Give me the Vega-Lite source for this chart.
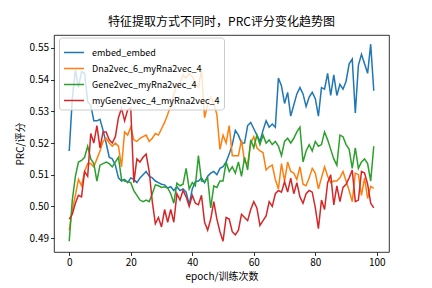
{
"$schema":"https://vega.github.io/schema/vega-lite/v6.json",
"width":335,"height":217,
"autosize":{"type":"none"},
"padding":{"left":54,"top":35,"right":43,"bottom":36},
"background":"white",
"title":{"text":"特征提取方式不同时，PRC评分变化趋势图","font":"Noto Sans CJK SC","fontSize":12,"fontWeight":"normal","color":"black","anchor":"middle","frame":"group","offset":6},
"data":{"values":[
{"epoch":0,"embed_embed":0.5175,"Dna2vec_6_myRna2vec_4":0.4925,"Gene2vec_myRna2vec_4":0.4890,"myGene2vec_4_myRna2vec_4":0.4960},
{"epoch":1,"embed_embed":0.5340,"Dna2vec_6_myRna2vec_4":0.4990,"Gene2vec_myRna2vec_4":0.5020,"myGene2vec_4_myRna2vec_4":0.4975},
{"epoch":2,"embed_embed":0.5430,"Dna2vec_6_myRna2vec_4":0.5035,"Gene2vec_myRna2vec_4":0.5095,"myGene2vec_4_myRna2vec_4":0.5010},
{"epoch":3,"embed_embed":0.5375,"Dna2vec_6_myRna2vec_4":0.5085,"Gene2vec_myRna2vec_4":0.5140,"myGene2vec_4_myRna2vec_4":0.5035},
{"epoch":4,"embed_embed":0.5425,"Dna2vec_6_myRna2vec_4":0.5065,"Gene2vec_myRna2vec_4":0.5145,"myGene2vec_4_myRna2vec_4":0.5030},
{"epoch":5,"embed_embed":0.5420,"Dna2vec_6_myRna2vec_4":0.5110,"Gene2vec_myRna2vec_4":0.5155,"myGene2vec_4_myRna2vec_4":0.5110},
{"epoch":6,"embed_embed":0.5330,"Dna2vec_6_myRna2vec_4":0.5135,"Gene2vec_myRna2vec_4":0.5190,"myGene2vec_4_myRna2vec_4":0.5095},
{"epoch":7,"embed_embed":0.5320,"Dna2vec_6_myRna2vec_4":0.5135,"Gene2vec_myRna2vec_4":0.5150,"myGene2vec_4_myRna2vec_4":0.5230},
{"epoch":8,"embed_embed":0.5270,"Dna2vec_6_myRna2vec_4":0.5125,"Gene2vec_myRna2vec_4":0.5135,"myGene2vec_4_myRna2vec_4":0.5200},
{"epoch":9,"embed_embed":0.5270,"Dna2vec_6_myRna2vec_4":0.5150,"Gene2vec_myRna2vec_4":0.5080,"myGene2vec_4_myRna2vec_4":0.5255},
{"epoch":10,"embed_embed":0.5275,"Dna2vec_6_myRna2vec_4":0.5175,"Gene2vec_myRna2vec_4":0.5130,"myGene2vec_4_myRna2vec_4":0.5185},
{"epoch":11,"embed_embed":0.5240,"Dna2vec_6_myRna2vec_4":0.5205,"Gene2vec_myRna2vec_4":0.5135,"myGene2vec_4_myRna2vec_4":0.5235},
{"epoch":12,"embed_embed":0.5200,"Dna2vec_6_myRna2vec_4":0.5215,"Gene2vec_myRna2vec_4":0.5140,"myGene2vec_4_myRna2vec_4":0.5235},
{"epoch":13,"embed_embed":0.5155,"Dna2vec_6_myRna2vec_4":0.5200,"Gene2vec_myRna2vec_4":0.5135,"myGene2vec_4_myRna2vec_4":0.5210},
{"epoch":14,"embed_embed":0.5150,"Dna2vec_6_myRna2vec_4":0.5190,"Gene2vec_myRna2vec_4":0.5125,"myGene2vec_4_myRna2vec_4":0.5200},
{"epoch":15,"embed_embed":0.5130,"Dna2vec_6_myRna2vec_4":0.5200,"Gene2vec_myRna2vec_4":0.5140,"myGene2vec_4_myRna2vec_4":0.5220},
{"epoch":16,"embed_embed":0.5090,"Dna2vec_6_myRna2vec_4":0.5190,"Gene2vec_myRna2vec_4":0.5155,"myGene2vec_4_myRna2vec_4":0.5280},
{"epoch":17,"embed_embed":0.5080,"Dna2vec_6_myRna2vec_4":0.5125,"Gene2vec_myRna2vec_4":0.5085,"myGene2vec_4_myRna2vec_4":0.5310},
{"epoch":18,"embed_embed":0.5085,"Dna2vec_6_myRna2vec_4":0.5235,"Gene2vec_myRna2vec_4":0.5080,"myGene2vec_4_myRna2vec_4":0.5270},
{"epoch":19,"embed_embed":0.5075,"Dna2vec_6_myRna2vec_4":0.5225,"Gene2vec_myRna2vec_4":0.5078,"myGene2vec_4_myRna2vec_4":0.5305},
{"epoch":20,"embed_embed":0.5090,"Dna2vec_6_myRna2vec_4":0.5250,"Gene2vec_myRna2vec_4":0.5075,"myGene2vec_4_myRna2vec_4":0.5310},
{"epoch":21,"embed_embed":0.5085,"Dna2vec_6_myRna2vec_4":0.5210,"Gene2vec_myRna2vec_4":0.5050,"myGene2vec_4_myRna2vec_4":0.5075},
{"epoch":22,"embed_embed":0.5075,"Dna2vec_6_myRna2vec_4":0.5205,"Gene2vec_myRna2vec_4":0.5035,"myGene2vec_4_myRna2vec_4":0.5150},
{"epoch":23,"embed_embed":0.5090,"Dna2vec_6_myRna2vec_4":0.5215,"Gene2vec_myRna2vec_4":0.5020,"myGene2vec_4_myRna2vec_4":0.5140},
{"epoch":24,"embed_embed":0.5100,"Dna2vec_6_myRna2vec_4":0.5220,"Gene2vec_myRna2vec_4":0.5015,"myGene2vec_4_myRna2vec_4":0.5155},
{"epoch":25,"embed_embed":0.5110,"Dna2vec_6_myRna2vec_4":0.5225,"Gene2vec_myRna2vec_4":0.5020,"myGene2vec_4_myRna2vec_4":0.5165},
{"epoch":26,"embed_embed":0.5095,"Dna2vec_6_myRna2vec_4":0.5205,"Gene2vec_myRna2vec_4":0.5015,"myGene2vec_4_myRna2vec_4":0.5110},
{"epoch":27,"embed_embed":0.5090,"Dna2vec_6_myRna2vec_4":0.5215,"Gene2vec_myRna2vec_4":0.5040,"myGene2vec_4_myRna2vec_4":0.5015},
{"epoch":28,"embed_embed":0.5080,"Dna2vec_6_myRna2vec_4":0.5230,"Gene2vec_myRna2vec_4":0.5068,"myGene2vec_4_myRna2vec_4":0.4945},
{"epoch":29,"embed_embed":0.5075,"Dna2vec_6_myRna2vec_4":0.5225,"Gene2vec_myRna2vec_4":0.5065,"myGene2vec_4_myRna2vec_4":0.4965},
{"epoch":30,"embed_embed":0.5070,"Dna2vec_6_myRna2vec_4":0.5245,"Gene2vec_myRna2vec_4":0.5060,"myGene2vec_4_myRna2vec_4":0.4935},
{"epoch":31,"embed_embed":0.5068,"Dna2vec_6_myRna2vec_4":0.5265,"Gene2vec_myRna2vec_4":0.5062,"myGene2vec_4_myRna2vec_4":0.4990},
{"epoch":32,"embed_embed":0.5058,"Dna2vec_6_myRna2vec_4":0.5290,"Gene2vec_myRna2vec_4":0.5058,"myGene2vec_4_myRna2vec_4":0.4950},
{"epoch":33,"embed_embed":0.5062,"Dna2vec_6_myRna2vec_4":0.5320,"Gene2vec_myRna2vec_4":0.5040,"myGene2vec_4_myRna2vec_4":0.4990},
{"epoch":34,"embed_embed":0.5050,"Dna2vec_6_myRna2vec_4":0.5355,"Gene2vec_myRna2vec_4":0.5010,"myGene2vec_4_myRna2vec_4":0.4950},
{"epoch":35,"embed_embed":0.5062,"Dna2vec_6_myRna2vec_4":0.5385,"Gene2vec_myRna2vec_4":0.5073,"myGene2vec_4_myRna2vec_4":0.5040},
{"epoch":36,"embed_embed":0.5050,"Dna2vec_6_myRna2vec_4":0.5390,"Gene2vec_myRna2vec_4":0.5065,"myGene2vec_4_myRna2vec_4":0.5020},
{"epoch":37,"embed_embed":0.5055,"Dna2vec_6_myRna2vec_4":0.5415,"Gene2vec_myRna2vec_4":0.5070,"myGene2vec_4_myRna2vec_4":0.5050},
{"epoch":38,"embed_embed":0.5045,"Dna2vec_6_myRna2vec_4":0.5405,"Gene2vec_myRna2vec_4":0.5120,"myGene2vec_4_myRna2vec_4":0.5030},
{"epoch":39,"embed_embed":0.5005,"Dna2vec_6_myRna2vec_4":0.5420,"Gene2vec_myRna2vec_4":0.5055,"myGene2vec_4_myRna2vec_4":0.5000},
{"epoch":40,"embed_embed":0.5055,"Dna2vec_6_myRna2vec_4":0.5410,"Gene2vec_myRna2vec_4":0.5075,"myGene2vec_4_myRna2vec_4":0.5035},
{"epoch":41,"embed_embed":0.5078,"Dna2vec_6_myRna2vec_4":0.5385,"Gene2vec_myRna2vec_4":0.5065,"myGene2vec_4_myRna2vec_4":0.5010},
{"epoch":42,"embed_embed":0.5080,"Dna2vec_6_myRna2vec_4":0.5375,"Gene2vec_myRna2vec_4":0.5160,"myGene2vec_4_myRna2vec_4":0.5005},
{"epoch":43,"embed_embed":0.5090,"Dna2vec_6_myRna2vec_4":0.5435,"Gene2vec_myRna2vec_4":0.5080,"myGene2vec_4_myRna2vec_4":0.5035},
{"epoch":44,"embed_embed":0.5075,"Dna2vec_6_myRna2vec_4":0.5280,"Gene2vec_myRna2vec_4":0.5078,"myGene2vec_4_myRna2vec_4":0.4950},
{"epoch":45,"embed_embed":0.5095,"Dna2vec_6_myRna2vec_4":0.5320,"Gene2vec_myRna2vec_4":0.5090,"myGene2vec_4_myRna2vec_4":0.4925},
{"epoch":46,"embed_embed":0.5105,"Dna2vec_6_myRna2vec_4":0.5345,"Gene2vec_myRna2vec_4":0.4995,"myGene2vec_4_myRna2vec_4":0.4960},
{"epoch":47,"embed_embed":0.5110,"Dna2vec_6_myRna2vec_4":0.5325,"Gene2vec_myRna2vec_4":0.5065,"myGene2vec_4_myRna2vec_4":0.5015},
{"epoch":48,"embed_embed":0.5100,"Dna2vec_6_myRna2vec_4":0.5290,"Gene2vec_myRna2vec_4":0.5060,"myGene2vec_4_myRna2vec_4":0.4960},
{"epoch":49,"embed_embed":0.5120,"Dna2vec_6_myRna2vec_4":0.5180,"Gene2vec_myRna2vec_4":0.5080,"myGene2vec_4_myRna2vec_4":0.4920},
{"epoch":50,"embed_embed":0.5125,"Dna2vec_6_myRna2vec_4":0.5225,"Gene2vec_myRna2vec_4":0.5080,"myGene2vec_4_myRna2vec_4":0.4890},
{"epoch":51,"embed_embed":0.5140,"Dna2vec_6_myRna2vec_4":0.5200,"Gene2vec_myRna2vec_4":0.5140,"myGene2vec_4_myRna2vec_4":0.4965},
{"epoch":52,"embed_embed":0.5165,"Dna2vec_6_myRna2vec_4":0.5255,"Gene2vec_myRna2vec_4":0.5110,"myGene2vec_4_myRna2vec_4":0.4960},
{"epoch":53,"embed_embed":0.5195,"Dna2vec_6_myRna2vec_4":0.5160,"Gene2vec_myRna2vec_4":0.5125,"myGene2vec_4_myRna2vec_4":0.4920},
{"epoch":54,"embed_embed":0.5240,"Dna2vec_6_myRna2vec_4":0.5160,"Gene2vec_myRna2vec_4":0.5105,"myGene2vec_4_myRna2vec_4":0.4910},
{"epoch":55,"embed_embed":0.5225,"Dna2vec_6_myRna2vec_4":0.5160,"Gene2vec_myRna2vec_4":0.5140,"myGene2vec_4_myRna2vec_4":0.4925},
{"epoch":56,"embed_embed":0.5200,"Dna2vec_6_myRna2vec_4":0.5210,"Gene2vec_myRna2vec_4":0.5095,"myGene2vec_4_myRna2vec_4":0.4975},
{"epoch":57,"embed_embed":0.5200,"Dna2vec_6_myRna2vec_4":0.5140,"Gene2vec_myRna2vec_4":0.5155,"myGene2vec_4_myRna2vec_4":0.4965},
{"epoch":58,"embed_embed":0.5255,"Dna2vec_6_myRna2vec_4":0.5135,"Gene2vec_myRna2vec_4":0.5115,"myGene2vec_4_myRna2vec_4":0.4955},
{"epoch":59,"embed_embed":0.5265,"Dna2vec_6_myRna2vec_4":0.5200,"Gene2vec_myRna2vec_4":0.5210,"myGene2vec_4_myRna2vec_4":0.4990},
{"epoch":60,"embed_embed":0.5245,"Dna2vec_6_myRna2vec_4":0.5220,"Gene2vec_myRna2vec_4":0.5185,"myGene2vec_4_myRna2vec_4":0.5015},
{"epoch":61,"embed_embed":0.5225,"Dna2vec_6_myRna2vec_4":0.5185,"Gene2vec_myRna2vec_4":0.5225,"myGene2vec_4_myRna2vec_4":0.4995},
{"epoch":62,"embed_embed":0.5205,"Dna2vec_6_myRna2vec_4":0.5175,"Gene2vec_myRna2vec_4":0.5195,"myGene2vec_4_myRna2vec_4":0.4940},
{"epoch":63,"embed_embed":0.5240,"Dna2vec_6_myRna2vec_4":0.5170,"Gene2vec_myRna2vec_4":0.5225,"myGene2vec_4_myRna2vec_4":0.4955},
{"epoch":64,"embed_embed":0.5270,"Dna2vec_6_myRna2vec_4":0.5115,"Gene2vec_myRna2vec_4":0.5200,"myGene2vec_4_myRna2vec_4":0.4970},
{"epoch":65,"embed_embed":0.5250,"Dna2vec_6_myRna2vec_4":0.5125,"Gene2vec_myRna2vec_4":0.5210,"myGene2vec_4_myRna2vec_4":0.5015},
{"epoch":66,"embed_embed":0.5260,"Dna2vec_6_myRna2vec_4":0.5130,"Gene2vec_myRna2vec_4":0.5195,"myGene2vec_4_myRna2vec_4":0.5000},
{"epoch":67,"embed_embed":0.5250,"Dna2vec_6_myRna2vec_4":0.5085,"Gene2vec_myRna2vec_4":0.5205,"myGene2vec_4_myRna2vec_4":0.5040},
{"epoch":68,"embed_embed":0.5405,"Dna2vec_6_myRna2vec_4":0.5055,"Gene2vec_myRna2vec_4":0.5190,"myGene2vec_4_myRna2vec_4":0.5050},
{"epoch":69,"embed_embed":0.5380,"Dna2vec_6_myRna2vec_4":0.5135,"Gene2vec_myRna2vec_4":0.5160,"myGene2vec_4_myRna2vec_4":0.5045},
{"epoch":70,"embed_embed":0.5325,"Dna2vec_6_myRna2vec_4":0.5080,"Gene2vec_myRna2vec_4":0.5205,"myGene2vec_4_myRna2vec_4":0.5078},
{"epoch":71,"embed_embed":0.5360,"Dna2vec_6_myRna2vec_4":0.5140,"Gene2vec_myRna2vec_4":0.5215,"myGene2vec_4_myRna2vec_4":0.5045},
{"epoch":72,"embed_embed":0.5285,"Dna2vec_6_myRna2vec_4":0.5110,"Gene2vec_myRna2vec_4":0.5200,"myGene2vec_4_myRna2vec_4":0.5089},
{"epoch":73,"embed_embed":0.5320,"Dna2vec_6_myRna2vec_4":0.5105,"Gene2vec_myRna2vec_4":0.5215,"myGene2vec_4_myRna2vec_4":0.5040},
{"epoch":74,"embed_embed":0.5355,"Dna2vec_6_myRna2vec_4":0.5085,"Gene2vec_myRna2vec_4":0.5235,"myGene2vec_4_myRna2vec_4":0.5075},
{"epoch":75,"embed_embed":0.5375,"Dna2vec_6_myRna2vec_4":0.5125,"Gene2vec_myRna2vec_4":0.5250,"myGene2vec_4_myRna2vec_4":0.5030},
{"epoch":76,"embed_embed":0.5355,"Dna2vec_6_myRna2vec_4":0.5070,"Gene2vec_myRna2vec_4":0.5140,"myGene2vec_4_myRna2vec_4":0.5010},
{"epoch":77,"embed_embed":0.5315,"Dna2vec_6_myRna2vec_4":0.5065,"Gene2vec_myRna2vec_4":0.5175,"myGene2vec_4_myRna2vec_4":0.5040},
{"epoch":78,"embed_embed":0.5345,"Dna2vec_6_myRna2vec_4":0.5090,"Gene2vec_myRna2vec_4":0.5195,"myGene2vec_4_myRna2vec_4":0.5050},
{"epoch":79,"embed_embed":0.5360,"Dna2vec_6_myRna2vec_4":0.5120,"Gene2vec_myRna2vec_4":0.5175,"myGene2vec_4_myRna2vec_4":0.5045},
{"epoch":80,"embed_embed":0.5340,"Dna2vec_6_myRna2vec_4":0.5105,"Gene2vec_myRna2vec_4":0.5205,"myGene2vec_4_myRna2vec_4":0.4995},
{"epoch":81,"embed_embed":0.5285,"Dna2vec_6_myRna2vec_4":0.5055,"Gene2vec_myRna2vec_4":0.5190,"myGene2vec_4_myRna2vec_4":0.4930},
{"epoch":82,"embed_embed":0.5375,"Dna2vec_6_myRna2vec_4":0.5090,"Gene2vec_myRna2vec_4":0.5195,"myGene2vec_4_myRna2vec_4":0.5020},
{"epoch":83,"embed_embed":0.5370,"Dna2vec_6_myRna2vec_4":0.5125,"Gene2vec_myRna2vec_4":0.5235,"myGene2vec_4_myRna2vec_4":0.4990},
{"epoch":84,"embed_embed":0.5420,"Dna2vec_6_myRna2vec_4":0.5095,"Gene2vec_myRna2vec_4":0.5210,"myGene2vec_4_myRna2vec_4":0.5075},
{"epoch":85,"embed_embed":0.5350,"Dna2vec_6_myRna2vec_4":0.5075,"Gene2vec_myRna2vec_4":0.5180,"myGene2vec_4_myRna2vec_4":0.5100},
{"epoch":86,"embed_embed":0.5415,"Dna2vec_6_myRna2vec_4":0.5080,"Gene2vec_myRna2vec_4":0.5150,"myGene2vec_4_myRna2vec_4":0.5005},
{"epoch":87,"embed_embed":0.5350,"Dna2vec_6_myRna2vec_4":0.5080,"Gene2vec_myRna2vec_4":0.5130,"myGene2vec_4_myRna2vec_4":0.5065},
{"epoch":88,"embed_embed":0.5385,"Dna2vec_6_myRna2vec_4":0.5090,"Gene2vec_myRna2vec_4":0.5225,"myGene2vec_4_myRna2vec_4":0.5015},
{"epoch":89,"embed_embed":0.5370,"Dna2vec_6_myRna2vec_4":0.5110,"Gene2vec_myRna2vec_4":0.5220,"myGene2vec_4_myRna2vec_4":0.5060},
{"epoch":90,"embed_embed":0.5395,"Dna2vec_6_myRna2vec_4":0.5080,"Gene2vec_myRna2vec_4":0.5195,"myGene2vec_4_myRna2vec_4":0.5070},
{"epoch":91,"embed_embed":0.5450,"Dna2vec_6_myRna2vec_4":0.5050,"Gene2vec_myRna2vec_4":0.5180,"myGene2vec_4_myRna2vec_4":0.5090},
{"epoch":92,"embed_embed":0.5465,"Dna2vec_6_myRna2vec_4":0.5015,"Gene2vec_myRna2vec_4":0.5120,"myGene2vec_4_myRna2vec_4":0.5115},
{"epoch":93,"embed_embed":0.5295,"Dna2vec_6_myRna2vec_4":0.5105,"Gene2vec_myRna2vec_4":0.5185,"myGene2vec_4_myRna2vec_4":0.5015},
{"epoch":94,"embed_embed":0.5445,"Dna2vec_6_myRna2vec_4":0.5100,"Gene2vec_myRna2vec_4":0.5120,"myGene2vec_4_myRna2vec_4":0.5020},
{"epoch":95,"embed_embed":0.5480,"Dna2vec_6_myRna2vec_4":0.5035,"Gene2vec_myRna2vec_4":0.5140,"myGene2vec_4_myRna2vec_4":0.5110},
{"epoch":96,"embed_embed":0.5450,"Dna2vec_6_myRna2vec_4":0.5090,"Gene2vec_myRna2vec_4":0.5150,"myGene2vec_4_myRna2vec_4":0.5105},
{"epoch":97,"embed_embed":0.5420,"Dna2vec_6_myRna2vec_4":0.5025,"Gene2vec_myRna2vec_4":0.5135,"myGene2vec_4_myRna2vec_4":0.5070},
{"epoch":98,"embed_embed":0.5512,"Dna2vec_6_myRna2vec_4":0.5063,"Gene2vec_myRna2vec_4":0.5080,"myGene2vec_4_myRna2vec_4":0.5010},
{"epoch":99,"embed_embed":0.5365,"Dna2vec_6_myRna2vec_4":0.5057,"Gene2vec_myRna2vec_4":0.5190,"myGene2vec_4_myRna2vec_4":0.4995}
]},
"transform":[{"fold":["embed_embed","Dna2vec_6_myRna2vec_4","Gene2vec_myRna2vec_4","myGene2vec_4_myRna2vec_4"],"as":["series","prc"]}],
"mark":{"type":"line","strokeWidth":1.5,"clip":true},
"encoding":{
"x":{"field":"epoch","type":"quantitative","scale":{"domain":[-4.95,103.95],"nice":false,"zero":false},"axis":{"values":[0,20,40,60,80,100],"title":"epoch/训练次数"}},
"y":{"field":"prc","type":"quantitative","scale":{"domain":[0.4856,0.5541],"nice":false,"zero":false},"axis":{"values":[0.49,0.50,0.51,0.52,0.53,0.54,0.55],"format":".2f","title":"PRC/评分"}},
"color":{"field":"series","type":"nominal","scale":{"domain":["embed_embed","Dna2vec_6_myRna2vec_4","Gene2vec_myRna2vec_4","myGene2vec_4_myRna2vec_4"],"range":["#1f77b4","#ff7f0e","#2ca02c","#d62728"]},
"legend":{"orient":"none","legendX":5,"legendY":2.5,"title":null,"symbolType":"stroke","symbolSize":400,"symbolStrokeWidth":1.5,"labelFont":"Noto Sans CJK SC","labelFontSize":9,"labelColor":"black","padding":4,"rowPadding":-5.6,"labelOffset":7,"strokeColor":"#cccccc","fillColor":"rgba(255,255,255,0.8)","cornerRadius":3}}
},
"config":{
"view":{"stroke":"black","strokeWidth":0.8},
"axis":{"domain":false,"grid":false,"tickColor":"black","tickSize":3.5,"tickWidth":0.8,"labelFont":"Noto Sans CJK SC","labelFontSize":10,"labelColor":"black","labelPadding":2,"titleFont":"Noto Sans CJK SC","titleFontSize":10,"titleFontWeight":"normal","titleColor":"black","titlePadding":4}
}
}
